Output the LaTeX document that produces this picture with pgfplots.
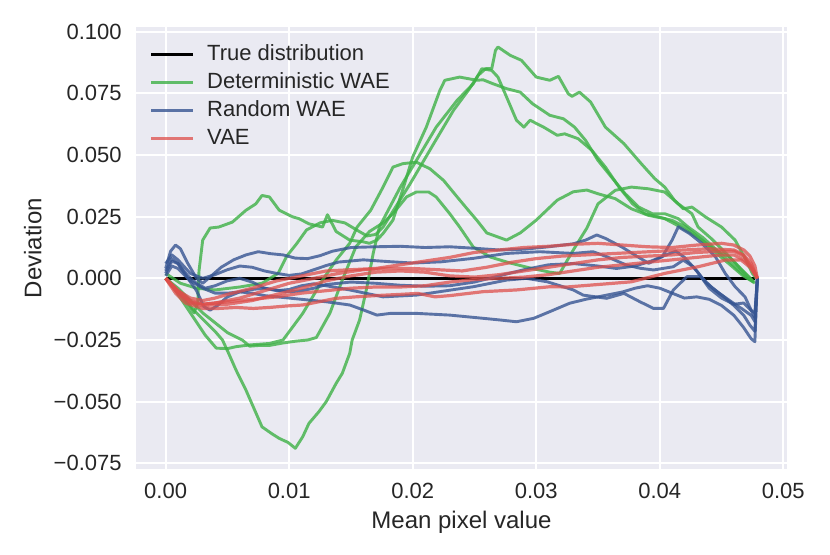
\documentclass[border=0pt]{standalone}
\usepackage{fontspec}
\setmainfont{Liberation Sans}
\usepackage{pgfplots}
\pgfplotsset{compat=1.18}
\definecolor{bgc}{HTML}{EAEAF2}
\definecolor{txt}{HTML}{262626}
\definecolor{cgreen}{RGB}{62,177,70}
\definecolor{cblue}{RGB}{54,85,146}
\definecolor{cred}{RGB}{222,79,75}
\pgfplotsset{
  gr/.style={draw=cgreen, draw opacity=0.8, line width=1.45pt},
  bl/.style={draw=cblue, draw opacity=0.8, line width=1.45pt},
  rd/.style={draw=cred, draw opacity=0.75, line width=1.6pt},
}
\begin{document}
\begin{tikzpicture}
\path[use as bounding box] (-68pt,-42.5pt) rectangle (347pt,234.5pt);
\begin{axis}[
  at={(0,0)}, anchor=south west,
  scale only axis, width=325.5pt, height=221pt,
  xmin=-0.0024, xmax=0.0503, ymin=-0.0773, ymax=0.1019,
  axis background/.style={fill=bgc},
  axis line style={draw=none},
  grid=major, major grid style={white, line width=0.95pt},
  tick style={draw=none},
  scaled ticks=false,
  xtick={0,0.01,0.02,0.03,0.04,0.05},
  xticklabels={0.00,0.01,0.02,0.03,0.04,0.05},
  ytick={-0.075,-0.05,-0.025,0,0.025,0.05,0.075,0.1},
  yticklabels={−0.075,−0.050,−0.025,0.000,0.025,0.050,0.075,0.100},
  ticklabel style={font=\fontsize{11}{13}\selectfont, text=txt},
  xticklabel style={inner sep=0pt, anchor=north, yshift=-7pt},
  yticklabel style={inner sep=0pt, anchor=east, xshift=-7pt},
  xlabel={Mean pixel value}, ylabel={Deviation},
  label style={font=\fontsize{12}{14}\selectfont, text=txt, inner sep=0pt},
  xlabel style={at={(axis description cs:0.5,-0.095)}, anchor=north},
  ylabel style={at={(axis description cs:-0.1444,0.5)}, anchor=south},
  legend style={at={(axis description cs:0.02,0.962)}, anchor=north west,
    draw=none, fill=none, font=\fontsize{11}{13}\selectfont, text=txt,
    inner sep=0pt, row sep=3.5pt, column sep=6.5pt,
    nodes={inner sep=0pt, text height=8pt, text depth=2.5pt}},
  legend cell align=left,
  legend image code/.code={\draw[#1] (0pt,0pt) -- (20.8pt,0pt);},
  every axis plot/.append style={line join=round},
]
\addplot[black, line width=1.55pt] coordinates {(0,0) (0.0477,0)};
\addlegendentry{True distribution}

% Deterministic WAE
\addplot[gr] coordinates {
(0,0) (0.0008,-0.004) (0.0016,-0.009) (0.0023,-0.014) (0.0026,-0.010) (0.0027,0.003)
(0.0030,0.0155) (0.0036,0.0204) (0.0043,0.0208) (0.0054,0.0228) (0.0065,0.0276)
(0.0073,0.0302) (0.0078,0.0336) (0.0084,0.0330) (0.0092,0.0276) (0.0103,0.0249)
(0.0108,0.0242) (0.0116,0.0221) (0.0127,0.0208) (0.0131,0.0258) (0.0138,0.0190)
(0.0149,0.0155) (0.0160,0.0148) (0.0165,0.0142) (0.0171,0.0155) (0.0176,0.0182)
(0.0184,0.0236) (0.0192,0.0360) (0.0200,0.0492) (0.0211,0.0613) (0.0222,0.0762)
(0.0226,0.0803) (0.0238,0.0816) (0.0252,0.0803) (0.0257,0.0805) (0.0265,0.0789)
(0.0276,0.0769) (0.0287,0.0755) (0.0297,0.0708) (0.0311,0.0661) (0.0322,0.0647)
(0.0331,0.0613) (0.0340,0.0559) (0.0350,0.0478) (0.0361,0.0410) (0.0372,0.0343)
(0.0383,0.0289) (0.0394,0.0262) (0.0404,0.0262) (0.0415,0.0242) (0.0423,0.0208)
(0.0435,0.0165) (0.0447,0.0110) (0.0460,0.0050) (0.0470,0.0005) (0.0476,-0.0014)
};
\addlegendentry{Deterministic WAE}
\addplot[gr, forget plot] coordinates {
(0,0) (0.0008,-0.004) (0.0016,-0.009) (0.0024,-0.0135) (0.0032,-0.0175) (0.0040,-0.0215)
(0.0046,-0.0250) (0.0051,-0.0304) (0.0057,-0.0372) (0.0065,-0.0453) (0.0078,-0.0602)
(0.0086,-0.0630) (0.0092,-0.0649) (0.0099,-0.0665) (0.0105,-0.0689) (0.0111,-0.0642)
(0.0116,-0.0588) (0.0124,-0.0541) (0.0130,-0.0500) (0.0138,-0.0426) (0.0143,-0.0385)
(0.0149,-0.0304) (0.0151,-0.0250) (0.0157,-0.0169) (0.0163,-0.0034) (0.0168,0.0101)
(0.0173,0.0208) (0.0190,0.0370) (0.0203,0.0478) (0.0219,0.0613) (0.0236,0.0722)
(0.0249,0.0789) (0.0256,0.0850) (0.0264,0.0843) (0.0269,0.0816) (0.0276,0.0735)
(0.0284,0.0641) (0.0290,0.0613) (0.0295,0.0641) (0.0306,0.0613) (0.0317,0.0580)
(0.0323,0.0586) (0.0334,0.0566) (0.0345,0.0519) (0.0356,0.0451) (0.0367,0.0370)
(0.0378,0.0302) (0.0388,0.0262) (0.0399,0.0249) (0.0410,0.0235) (0.0421,0.0208)
(0.0433,0.0160) (0.0445,0.0105) (0.0457,0.0055) (0.0467,0.0012) (0.0476,-0.0016)
};
\addplot[gr, forget plot] coordinates {
(0,0) (0.0008,-0.005) (0.0016,-0.011) (0.0024,-0.017) (0.0032,-0.023) (0.0041,-0.0283)
(0.0050,-0.0285) (0.0057,-0.0277) (0.0068,-0.0270) (0.0084,-0.0264) (0.0095,-0.0250)
(0.0103,-0.0196) (0.0111,-0.0142) (0.0119,-0.0075) (0.0127,-0.0007) (0.0138,0.0074)
(0.0149,0.0142) (0.0155,0.0208) (0.0166,0.0276) (0.0176,0.0370) (0.0184,0.0451)
(0.0192,0.0465) (0.0203,0.0471) (0.0214,0.0444) (0.0225,0.0397) (0.0236,0.0330)
(0.0244,0.0282) (0.0252,0.0235) (0.0260,0.0184) (0.0276,0.0155) (0.0287,0.0184)
(0.0300,0.0236) (0.0317,0.0317) (0.0330,0.0351) (0.0341,0.0358) (0.0350,0.0343)
(0.0364,0.0323) (0.0377,0.0282) (0.0391,0.0255) (0.0404,0.0242) (0.0412,0.0221)
(0.0421,0.0196) (0.0434,0.0155) (0.0445,0.0115) (0.0456,0.0088) (0.0464,0.0047)
(0.0472,0.0007) (0.0476,-0.0014)
};
\addplot[gr, forget plot] coordinates {
(0,0) (0.0010,-0.004) (0.0020,-0.009) (0.0030,-0.014) (0.0040,-0.018) (0.0050,-0.022)
(0.0062,-0.0250) (0.0068,-0.0275) (0.0076,-0.0272) (0.0084,-0.0272) (0.0095,-0.0262)
(0.0105,-0.0255) (0.0115,-0.0250) (0.0122,-0.0240) (0.0133,-0.0141) (0.0143,-0.0007)
(0.0154,0.0128) (0.0165,0.0190) (0.0176,0.0225) (0.0184,0.0262) (0.0195,0.0330)
(0.0203,0.0350) (0.0213,0.0350) (0.0219,0.0330) (0.0230,0.0262) (0.0238,0.0208)
(0.0249,0.0127) (0.0263,0.0086) (0.0279,0.0062) (0.0295,0.0042) (0.0311,0.0025)
(0.0319,0.0020) (0.0330,0.0115) (0.0341,0.0204) (0.0350,0.0302) (0.0364,0.0357)
(0.0377,0.0370) (0.0391,0.0363) (0.0404,0.0350) (0.0415,0.0302) (0.0426,0.0262)
(0.0431,0.0208) (0.0442,0.0160) (0.0454,0.0100) (0.0466,0.0035) (0.0477,-0.0020)
};
\addplot[gr, forget plot] coordinates {
(0,0.002) (0.0012,-0.002) (0.0025,-0.004) (0.0040,-0.0047) (0.0060,-0.0035)
(0.0078,-0.0020) (0.0091,0.0020) (0.0098,0.0090) (0.0106,0.0140) (0.0114,0.0196)
(0.0125,0.0225) (0.0135,0.0235) (0.0145,0.0225) (0.0155,0.0195) (0.0163,0.0172)
(0.0170,0.0178) (0.0176,0.0208) (0.0198,0.0384) (0.0217,0.0546) (0.0233,0.0681)
(0.0246,0.0769) (0.0253,0.0823) (0.0259,0.0850) (0.0264,0.0850) (0.0267,0.0924)
(0.0269,0.0938) (0.0279,0.0904) (0.0288,0.0884) (0.0300,0.0816) (0.0311,0.0803)
(0.0318,0.0819) (0.0326,0.0748) (0.0329,0.0738) (0.0335,0.0755) (0.0344,0.0715)
(0.0356,0.0613) (0.0371,0.0546) (0.0385,0.0465) (0.0396,0.0404) (0.0404,0.0370)
(0.0412,0.0316) (0.0419,0.0282) (0.0426,0.0289) (0.0437,0.0249) (0.0450,0.0208)
(0.0461,0.0155) (0.0469,0.0082) (0.0475,0.0020) (0.0478,0.0)
};

% Random WAE
\addplot[bl] coordinates {
(0,0.004) (0.0004,0.011) (0.0008,0.0135) (0.0012,0.012) (0.0018,0.006) (0.0025,0.000)
(0.0030,-0.002) (0.0037,0.001) (0.0045,0.0045) (0.0055,0.0075) (0.0065,0.0095)
(0.0075,0.0108) (0.0085,0.0100) (0.0095,0.0095) (0.0105,0.0082) (0.0115,0.0080)
(0.0125,0.0092) (0.0135,0.0110) (0.0150,0.0125) (0.0170,0.0128) (0.0190,0.0130)
(0.0210,0.0125) (0.0230,0.0128) (0.0250,0.0122) (0.0270,0.0115) (0.0290,0.0118)
(0.0310,0.0128) (0.0330,0.0140) (0.0340,0.0155) (0.0349,0.0176) (0.0356,0.0162)
(0.0369,0.0128) (0.0380,0.0094) (0.0391,0.0061) (0.0402,0.0088) (0.0410,0.0155)
(0.0415,0.0209) (0.0424,0.0182) (0.0434,0.0142) (0.0445,0.0088) (0.0453,0.0020)
(0.0461,-0.0034) (0.0469,-0.0075) (0.0474,-0.0129) (0.0477,-0.0160) (0.0479,0.0)
};
\addlegendentry{Random WAE}
\addplot[bl, forget plot] coordinates {
(0,0.006) (0.0005,0.0095) (0.0010,0.0075) (0.0020,0.002) (0.0030,0.0000) (0.0040,0.0015)
(0.0050,0.0035) (0.0060,0.0050) (0.0070,0.0045) (0.0080,0.0030) (0.0090,0.0020)
(0.0100,0.0012) (0.0110,0.0018) (0.0120,0.0035) (0.0130,0.0052) (0.0140,0.0066)
(0.0160,0.0075) (0.0180,0.0068) (0.0200,0.0062) (0.0223,0.0067) (0.0249,0.0081)
(0.0276,0.0101) (0.0303,0.0108) (0.0330,0.0101) (0.0346,0.0108) (0.0357,0.0088)
(0.0373,0.0054) (0.0384,0.0041) (0.0395,0.0034) (0.0411,0.0047) (0.0419,0.0074)
(0.0427,0.0047) (0.0438,-0.0020) (0.0448,-0.0060) (0.0458,-0.0095) (0.0467,-0.0125)
(0.0474,-0.0150) (0.0477,-0.0175) (0.0479,0.0)
};
\addplot[bl, forget plot] coordinates {
(0,0.002) (0.0005,0.007) (0.0010,0.006) (0.0018,0.001) (0.0025,-0.002) (0.0032,-0.0040)
(0.0040,-0.0030) (0.0050,-0.0010) (0.0060,0.0000) (0.0070,-0.0015) (0.0080,-0.0040)
(0.0090,-0.0050) (0.0100,-0.0045) (0.0110,-0.0030) (0.0120,-0.0022) (0.0130,-0.0030)
(0.0149,-0.0047) (0.0176,-0.0075) (0.0203,-0.0068) (0.0222,-0.0054) (0.0249,-0.0034)
(0.0276,-0.0007) (0.0292,0.0000) (0.0309,-0.0014) (0.0330,-0.0047) (0.0338,-0.0068)
(0.0357,-0.0081) (0.0371,-0.0061) (0.0384,-0.0095) (0.0395,-0.0122) (0.0403,-0.0122)
(0.0411,-0.0047) (0.0422,0.0007) (0.0433,0.0007) (0.0443,-0.0041) (0.0452,-0.0075)
(0.0460,-0.0110) (0.0468,-0.0150) (0.0473,-0.0190) (0.0477,-0.0215) (0.0479,0.0)
};
\addplot[bl, forget plot] coordinates {
(0,0.003) (0.0005,0.008) (0.0010,0.006) (0.0018,0.000) (0.0025,-0.005) (0.0031,-0.0115)
(0.0036,-0.0129) (0.0042,-0.0110) (0.0050,-0.0075) (0.0060,-0.0055) (0.0070,-0.0045)
(0.0080,-0.0040) (0.0090,-0.0048) (0.0100,-0.0055) (0.0110,-0.0050) (0.0120,-0.0040)
(0.0130,-0.0025) (0.0150,-0.0015) (0.0170,-0.0020) (0.0190,-0.0028) (0.0210,-0.0032)
(0.0230,-0.0030) (0.0250,-0.0015) (0.0270,0.0010) (0.0290,0.0035) (0.0310,0.0055)
(0.0330,0.0060) (0.0350,0.0050) (0.0365,0.0040) (0.0380,0.0050) (0.0393,0.0070)
(0.0405,0.0095) (0.0413,0.0110) (0.0420,0.0085) (0.0430,0.0030) (0.0440,-0.0040)
(0.0450,-0.0080) (0.0460,-0.0105) (0.0468,-0.0100) (0.0474,-0.0130) (0.0477,-0.0140)
(0.0479,0.0)
};
\addplot[bl, forget plot] coordinates {
(0,0.001) (0.0005,0.005) (0.0010,0.004) (0.0020,-0.001) (0.0030,-0.004) (0.0040,-0.006)
(0.0050,-0.0060) (0.0060,-0.0055) (0.0070,-0.0060) (0.0080,-0.0070) (0.0090,-0.0075)
(0.0100,-0.0080) (0.0110,-0.0085) (0.0120,-0.0090) (0.0130,-0.0095) (0.0149,-0.0108)
(0.0160,-0.0128) (0.0171,-0.0149) (0.0182,-0.0142) (0.0203,-0.0142) (0.0230,-0.0149)
(0.0257,-0.0162) (0.0271,-0.0169) (0.0284,-0.0176) (0.0298,-0.0162) (0.0311,-0.0135)
(0.0327,-0.0101) (0.0340,-0.0085) (0.0355,-0.0070) (0.0370,-0.0055) (0.0380,-0.0040)
(0.0390,-0.0030) (0.0400,-0.0040) (0.0410,-0.0060) (0.0420,-0.0080) (0.0430,-0.0075)
(0.0440,-0.0085) (0.0450,-0.0110) (0.0460,-0.0150) (0.0468,-0.0200) (0.0474,-0.0245)
(0.0477,-0.0257) (0.0479,0.0)
};

% VAE
\addplot[rd] coordinates {
(0,0) (0.0010,-0.005) (0.0020,-0.008) (0.0030,-0.009) (0.0040,-0.008) (0.0050,-0.0065)
(0.0070,-0.0040) (0.0090,-0.0010) (0.0110,0.0010) (0.0130,0.0030) (0.0150,0.0035)
(0.0170,0.0040) (0.0190,0.0055) (0.0210,0.0070) (0.0230,0.0085) (0.0250,0.0105)
(0.0270,0.0115) (0.0290,0.0125) (0.0310,0.0130) (0.0330,0.0138) (0.0350,0.0142)
(0.0370,0.0135) (0.0390,0.0128) (0.0410,0.0125) (0.0430,0.0135) (0.0450,0.0142)
(0.0460,0.0135) (0.0468,0.0115) (0.0473,0.0090) (0.0477,0.0050) (0.0479,0.0)
};
\addlegendentry{VAE}
\addplot[rd, forget plot] coordinates {
(0,0) (0.0010,-0.006) (0.0020,-0.0095) (0.0030,-0.0105) (0.0040,-0.0100) (0.0060,-0.0080)
(0.0080,-0.0050) (0.0100,-0.0020) (0.0120,0.0000) (0.0140,0.0020) (0.0160,0.0035)
(0.0180,0.0040) (0.0200,0.0040) (0.0220,0.0035) (0.0240,0.0030) (0.0260,0.0045)
(0.0280,0.0065) (0.0300,0.0080) (0.0320,0.0090) (0.0340,0.0095) (0.0360,0.0100)
(0.0380,0.0105) (0.0400,0.0110) (0.0420,0.0115) (0.0440,0.0120) (0.0460,0.0115)
(0.0468,0.0095) (0.0474,0.0060) (0.0479,0.0)
};
\addplot[rd, forget plot] coordinates {
(0,0) (0.0010,-0.006) (0.0020,-0.0100) (0.0030,-0.0110) (0.0050,-0.0105) (0.0070,-0.0090)
(0.0090,-0.0065) (0.0110,-0.0040) (0.0130,-0.0010) (0.0150,0.0010) (0.0170,0.0025)
(0.0190,0.0030) (0.0210,0.0025) (0.0230,0.0010) (0.0250,0.0005) (0.0270,0.0015)
(0.0290,0.0030) (0.0310,0.0045) (0.0330,0.0060) (0.0350,0.0075) (0.0370,0.0085)
(0.0390,0.0090) (0.0410,0.0095) (0.0430,0.0105) (0.0450,0.0110) (0.0460,0.0110)
(0.0468,0.0090) (0.0474,0.0050) (0.0479,0.0)
};
\addplot[rd, forget plot] coordinates {
(0,0) (0.0010,-0.005) (0.0020,-0.0090) (0.0030,-0.0105) (0.0050,-0.0095) (0.0070,-0.0085)
(0.0090,-0.0075) (0.0110,-0.0060) (0.0130,-0.0050) (0.0150,-0.0040) (0.0170,-0.0035)
(0.0190,-0.0035) (0.0210,-0.0030) (0.0230,-0.0015) (0.0250,-0.0005) (0.0270,0.0000)
(0.0290,0.0005) (0.0310,0.0015) (0.0330,0.0030) (0.0350,0.0045) (0.0370,0.0055)
(0.0390,0.0065) (0.0410,0.0075) (0.0430,0.0085) (0.0450,0.0095) (0.0460,0.0095)
(0.0468,0.0075) (0.0474,0.0045) (0.0479,0.0)
};
\addplot[rd, forget plot] coordinates {
(0,0) (0.0008,-0.006) (0.0016,-0.0100) (0.0030,-0.0122) (0.0043,-0.0122) (0.0057,-0.0118)
(0.0071,-0.0122) (0.0084,-0.0118) (0.0098,-0.0112) (0.0111,-0.0108) (0.0124,-0.0095)
(0.0138,-0.0081) (0.0154,-0.0075) (0.0170,-0.0070) (0.0190,-0.0065) (0.0204,-0.0061)
(0.0218,-0.0075) (0.0230,-0.0070) (0.0257,-0.0054) (0.0284,-0.0047) (0.0311,-0.0034)
(0.0325,-0.0035) (0.0350,-0.0025) (0.0377,-0.0014) (0.0404,0.0020) (0.0431,0.0047)
(0.0453,0.0074) (0.0466,0.0074) (0.0473,0.0045) (0.0479,0.0)
};
\end{axis}
\end{tikzpicture}
\end{document}
